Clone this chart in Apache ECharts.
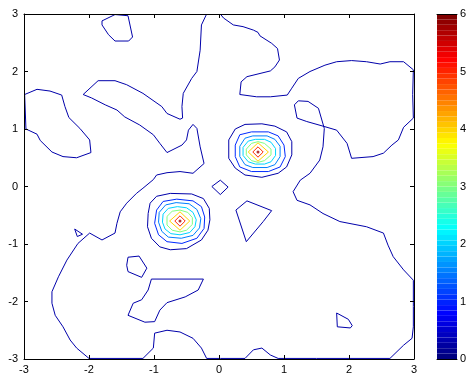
<!DOCTYPE html>
<html lang="en">

<head>
    <meta charset="utf-8">
    <title>contour</title>
    <script src="https://cdn.jsdelivr.net/npm/echarts@6/dist/echarts.min.js"></script>
    <style>
        html, body { margin: 0; padding: 0; background: #fff; }
    </style>
</head>

<body>
<div id="chart" style="width: 472px; height: 380px;"></div>
<script>
    // axis ticks
    var xTicks = [-3, -2, -1, 0, 1, 2, 3];
    var yTicks = [-3, -2, -1, 0, 1, 2, 3];
    var cbarTicks = [0, 1, 2, 3, 4, 5, 6];

    // contour levels (colour comes from jet on 0..6)
    var levels = [0.25, 1, 1.5, 2, 3, 4, 5, 5.8];

    // lowest level (navy) lines
    var mainLine = [[-0.19,3],[-0.27,2.81],[-0.29,2.37],[-0.34,2.0],[-0.42,1.88],[-0.55,1.62],[-0.57,1.39],[-0.56,1.19],[-0.6,1.17],[-0.8,1.27],[-0.88,1.39],[-1.17,1.62],[-1.42,1.77],[-1.6,1.84],[-1.86,1.84],[-2.09,1.6],[-1.96,1.54],[-1.75,1.42],[-1.57,1.33],[-1.45,1.21],[-1.22,1.07],[-1.01,0.9],[-0.91,0.75],[-0.8,0.59],[-0.57,0.72],[-0.5,0.81],[-0.47,0.98],[-0.4,1.08],[-0.34,1.01],[-0.29,0.69],[-0.23,0.4],[-0.4,0.23],[-0.6,0.26],[-0.8,0.24],[-0.96,0.2],[-1.01,0.12],[-1.17,-0.03],[-1.27,-0.12],[-1.42,-0.29],[-1.52,-0.44],[-1.57,-0.64],[-1.6,-0.81],[-1.8,-0.93],[-1.99,-0.81],[-2.17,-0.99],[-2.34,-1.28],[-2.47,-1.57],[-2.57,-1.83],[-2.57,-2.03],[-2.52,-2.24],[-2.4,-2.44],[-2.29,-2.67],[-2.19,-2.81],[-2.0,-2.99],[-1.6,-2.99],[-1.17,-2.99],[-1.01,-2.81],[-0.99,-2.55],[-0.8,-2.5],[-0.6,-2.53],[-0.4,-2.64],[-0.27,-2.81],[-0.19,-2.99],[0.02,-2.99],[0.4,-2.99],[0.53,-2.84],[0.66,-2.81],[0.79,-2.93],[0.91,-2.99],[1.5,-2.99],[2.2,-2.99],[2.63,-2.99],[2.84,-2.76],[2.97,-2.64],[2.99,-2.44],[2.99,-2.09],[2.99,-1.63],[2.84,-1.45],[2.68,-1.22],[2.6,-1.02],[2.53,-0.81],[2.27,-0.7],[1.86,-0.61],[1.6,-0.47],[1.4,-0.32],[1.2,-0.24],[1.14,-0.09],[1.25,0.11],[1.4,0.23],[1.55,0.46],[1.6,0.69],[1.62,1.01],[1.53,1.36],[1.37,1.48],[1.22,1.49],[1.16,1.42],[1.2,1.19],[1.35,1.13],[1.63,1.04],[1.81,0.98],[1.97,0.75],[2.04,0.49],[2.37,0.52],[2.53,0.58],[2.66,0.72],[2.76,0.81],[2.84,1.03],[2.99,1.19],[2.98,1.6],[2.99,2.03],[2.84,2.17],[2.63,2.17],[2.48,2.13],[2.27,2.17],[2.04,2.19],[1.81,2.17],[1.63,2.11],[1.4,2.0],[1.22,1.88],[1.12,1.71],[1.05,1.59],[0.79,1.56],[0.58,1.56],[0.32,1.6],[0.34,1.82],[0.43,1.91],[0.79,2.01],[0.86,2.08],[0.93,2.2],[0.9,2.4],[0.81,2.49],[0.63,2.62],[0.6,2.68],[0.53,2.72],[0.37,2.78],[0.22,2.81],[0.07,2.93],[0.02,3]];
    var topLoop = [[-1.8,2.88],[-1.6,2.99],[-1.4,2.97],[-1.33,2.6],[-1.39,2.53],[-1.6,2.53],[-1.7,2.64],[-1.8,2.81],[-1.8,2.88]];
    var leftLoop = [[-2.99,1.6],[-2.8,1.69],[-2.6,1.66],[-2.42,1.59],[-2.37,1.39],[-2.31,1.2],[-2.14,1.01],[-1.99,0.81],[-1.97,0.59],[-2.19,0.5],[-2.4,0.52],[-2.57,0.6],[-2.75,0.8],[-2.8,0.91],[-2.97,1.0],[-2.99,1.6]];
    var smallTri = [[-2.22,-0.74],[-2.1,-0.83],[-2.18,-0.87],[-2.22,-0.74]];
    var pentagon = [[-1.4,-1.23],[-1.23,-1.21],[-1.11,-1.42],[-1.19,-1.58],[-1.4,-1.48],[-1.42,-1.37],[-1.4,-1.23]];
    var bottomShape = [[-1.04,-1.61],[-0.24,-1.61],[-0.32,-1.8],[-0.52,-1.92],[-0.8,-2.02],[-0.91,-2.15],[-0.99,-2.35],[-1.14,-2.36],[-1.4,-2.24],[-1.32,-2.03],[-1.19,-1.97],[-1.09,-1.8],[-1.04,-1.61]];
    var rightLoop = [[1.81,-2.2],[1.99,-2.31],[2.05,-2.42],[2.02,-2.46],[1.82,-2.44],[1.81,-2.2]];
    var diamond = [[-0.11,0],[0.02,0.11],[0.14,-0.01],[0.02,-0.14],[-0.11,0]];
    var triangle = [[0.26,-0.41],[0.43,-0.25],[0.81,-0.42],[0.68,-0.61],[0.42,-0.96],[0.26,-0.41]];

    // rings round the upper peak (0.6, 0.6)
    var peakA0 = [[0.15,0.81],[0.25,1.0],[0.4,1.08],[0.66,1.09],[0.86,1.05],[1.04,0.95],[1.12,0.78],[1.12,0.55],[1.04,0.34],[0.91,0.23],[0.66,0.16],[0.4,0.2],[0.25,0.32],[0.15,0.49],[0.15,0.81]];
    var peakA1 = [[0.25,0.72],[0.32,0.9],[0.5,0.95],[0.76,0.95],[0.91,0.88],[1.0,0.72],[1.02,0.52],[0.94,0.34],[0.76,0.26],[0.5,0.26],[0.32,0.34],[0.25,0.52],[0.25,0.72]];
    var peakA2 = [[0.32,0.7],[0.4,0.84],[0.52,0.88],[0.74,0.88],[0.86,0.82],[0.94,0.7],[0.94,0.52],[0.86,0.38],[0.74,0.33],[0.52,0.33],[0.4,0.38],[0.32,0.52],[0.32,0.7]];
    var peakA3 = [[0.37,0.68],[0.45,0.79],[0.56,0.82],[0.7,0.82],[0.8,0.77],[0.87,0.66],[0.87,0.54],[0.8,0.43],[0.7,0.39],[0.56,0.39],[0.45,0.43],[0.37,0.54],[0.37,0.68]];
    var peakA4 = [[0.42,0.65],[0.5,0.75],[0.6,0.78],[0.7,0.75],[0.8,0.65],[0.8,0.55],[0.7,0.45],[0.6,0.42],[0.5,0.45],[0.42,0.55],[0.42,0.65]];
    var peakA5 = [[0.45,0.6],[0.6,0.76],[0.76,0.6],[0.6,0.44],[0.45,0.6]];
    var peakA6 = [[0.52,0.6],[0.6,0.69],[0.68,0.6],[0.6,0.51],[0.52,0.6]];

    // rings round the lower peak (-0.6, -0.6)
    var peakB0 = [[-1.06,-0.29],[-0.96,-0.17],[-0.75,-0.12],[-0.42,-0.13],[-0.24,-0.21],[-0.15,-0.38],[-0.14,-0.58],[-0.17,-0.76],[-0.27,-0.93],[-0.5,-1.08],[-0.75,-1.1],[-0.91,-1.05],[-1.04,-0.9],[-1.1,-0.7],[-1.09,-0.47],[-1.06,-0.29]];
    var peakB1 = [[-0.96,-0.41],[-0.86,-0.26],[-0.65,-0.22],[-0.4,-0.25],[-0.27,-0.35],[-0.22,-0.53],[-0.23,-0.73],[-0.34,-0.9],[-0.57,-0.99],[-0.8,-0.96],[-0.93,-0.84],[-0.99,-0.64],[-0.96,-0.41]];
    var peakB2 = [[-0.92,-0.45],[-0.82,-0.32],[-0.66,-0.28],[-0.46,-0.3],[-0.34,-0.4],[-0.28,-0.56],[-0.3,-0.72],[-0.4,-0.85],[-0.58,-0.9],[-0.78,-0.88],[-0.88,-0.78],[-0.93,-0.62],[-0.92,-0.45]];
    var peakB3 = [[-0.86,-0.48],[-0.78,-0.38],[-0.64,-0.35],[-0.5,-0.37],[-0.4,-0.45],[-0.35,-0.58],[-0.37,-0.7],[-0.45,-0.8],[-0.6,-0.84],[-0.74,-0.82],[-0.83,-0.74],[-0.87,-0.62],[-0.86,-0.48]];
    var peakB4 = [[-0.8,-0.52],[-0.72,-0.43],[-0.6,-0.41],[-0.48,-0.45],[-0.41,-0.54],[-0.41,-0.66],[-0.5,-0.76],[-0.6,-0.79],[-0.72,-0.76],[-0.8,-0.67],[-0.8,-0.52]];
    var peakB5 = [[-0.76,-0.6],[-0.6,-0.44],[-0.45,-0.6],[-0.6,-0.76],[-0.76,-0.6]];
    var peakB6 = [[-0.68,-0.6],[-0.6,-0.51],[-0.52,-0.6],[-0.6,-0.69],[-0.68,-0.6]];

    // peak tops
    var peakTops = [[0.6, 0.6], [-0.6, -0.6]];

    // which line goes with which level
    var contourLines = [
        [mainLine, 0], [topLoop, 0], [leftLoop, 0], [smallTri, 0], [pentagon, 0],
        [bottomShape, 0], [rightLoop, 0], [diamond, 0], [triangle, 0],
        [peakA0, 0], [peakA1, 1], [peakA2, 2], [peakA3, 3], [peakA4, 4], [peakA5, 5], [peakA6, 6],
        [peakB0, 0], [peakB1, 1], [peakB2, 2], [peakB3, 3], [peakB4, 4], [peakB5, 5], [peakB6, 6]
    ];

    var cmin = 0, cmax = 6, nColors = 64;

    function clamp(v) {
        return Math.max(0, Math.min(1, v));
    }

    // matlab jet colormap
    function jet(t) {
        var r = clamp(1.5 - Math.abs(4 * t - 3));
        var g = clamp(1.5 - Math.abs(4 * t - 2));
        var b = clamp(1.5 - Math.abs(4 * t - 1));
        return 'rgb(' + Math.round(r * 255) + ',' + Math.round(g * 255) + ',' + Math.round(b * 255) + ')';
    }

    var chart = echarts.init(document.getElementById('chart'));

    var labelFont = {color: '#000', fontSize: 11, fontFamily: 'Liberation Sans, Arial, sans-serif'};
    var black = {color: '#000', width: 1};

    var series = [];
    contourLines.forEach(function (c) {
        series.push({
            type: 'line',
            xAxisIndex: 0,
            yAxisIndex: 0,
            data: c[0],
            showSymbol: false,
            symbol: 'none',
            clip: true,
            silent: true,
            lineStyle: {width: 1, color: jet((levels[c[1]] - cmin) / (cmax - cmin))}
        });
    });
    series.push({
        type: 'scatter',
        xAxisIndex: 0,
        yAxisIndex: 0,
        data: peakTops,
        symbolSize: 3,
        silent: true,
        itemStyle: {color: jet((levels[7] - cmin) / (cmax - cmin))}
    });

    // colorbar: stacked bands
    for (var i = 0; i < nColors; i++) {
        series.push({
            type: 'bar',
            xAxisIndex: 2,
            yAxisIndex: 2,
            stack: 'cbar',
            barWidth: '100%',
            silent: true,
            data: [(cmax - cmin) / nColors],
            itemStyle: {color: jet(i / (nColors - 1))}
        });
    }

    var option = {
        animation: false,
        backgroundColor: '#fff',
        grid: [
            {left: 24, top: 14, width: 390, height: 345},
            {left: 437, top: 14, width: 20, height: 345}
        ],
        xAxis: [
            {
                type: 'value', gridIndex: 0, position: 'bottom', min: xTicks[0], max: xTicks[xTicks.length - 1], interval: 1,
                axisLine: {onZero: false, lineStyle: black}, axisTick: {inside: true, length: 4, lineStyle: black},
                axisLabel: Object.assign({margin: 5}, labelFont), splitLine: {show: false}, z: 10
            },
            {
                type: 'value', gridIndex: 0, position: 'top', min: xTicks[0], max: xTicks[xTicks.length - 1], interval: 1,
                axisLine: {onZero: false, lineStyle: black}, axisTick: {inside: true, length: 4, lineStyle: black},
                axisLabel: {show: false}, splitLine: {show: false}, z: 10
            },
            {
                type: 'category', gridIndex: 1, position: 'bottom', data: ['c'],
                axisLine: {onZero: false, lineStyle: black}, axisTick: {show: false},
                axisLabel: {show: false}, splitLine: {show: false}, z: 10
            },
            {
                type: 'category', gridIndex: 1, position: 'top', data: ['c'],
                axisLine: {onZero: false, lineStyle: black}, axisTick: {show: false},
                axisLabel: {show: false}, splitLine: {show: false}, z: 10
            }
        ],
        yAxis: [
            {
                type: 'value', gridIndex: 0, position: 'left', min: yTicks[0], max: yTicks[yTicks.length - 1], interval: 1,
                axisLine: {onZero: false, lineStyle: black}, axisTick: {inside: true, length: 4, lineStyle: black},
                axisLabel: Object.assign({margin: 6}, labelFont), splitLine: {show: false}, z: 10
            },
            {
                type: 'value', gridIndex: 0, position: 'right', min: yTicks[0], max: yTicks[yTicks.length - 1], interval: 1,
                axisLine: {onZero: false, lineStyle: black}, axisTick: {inside: true, length: 4, lineStyle: black},
                axisLabel: {show: false}, splitLine: {show: false}, z: 10
            },
            {
                type: 'value', gridIndex: 1, position: 'left', min: cbarTicks[0], max: cbarTicks[cbarTicks.length - 1], interval: 1,
                axisLine: {onZero: false, lineStyle: black}, axisTick: {show: false},
                axisLabel: {show: false}, splitLine: {show: false}, z: 10
            },
            {
                type: 'value', gridIndex: 1, position: 'right', min: cbarTicks[0], max: cbarTicks[cbarTicks.length - 1], interval: 1,
                axisLine: {onZero: false, lineStyle: black}, axisTick: {inside: false, length: 3, lineStyle: black},
                axisLabel: Object.assign({margin: 3}, labelFont), splitLine: {show: false}, z: 10
            }
        ],
        series: series
    };
    chart.setOption(option);
</script>
</body>

</html>
